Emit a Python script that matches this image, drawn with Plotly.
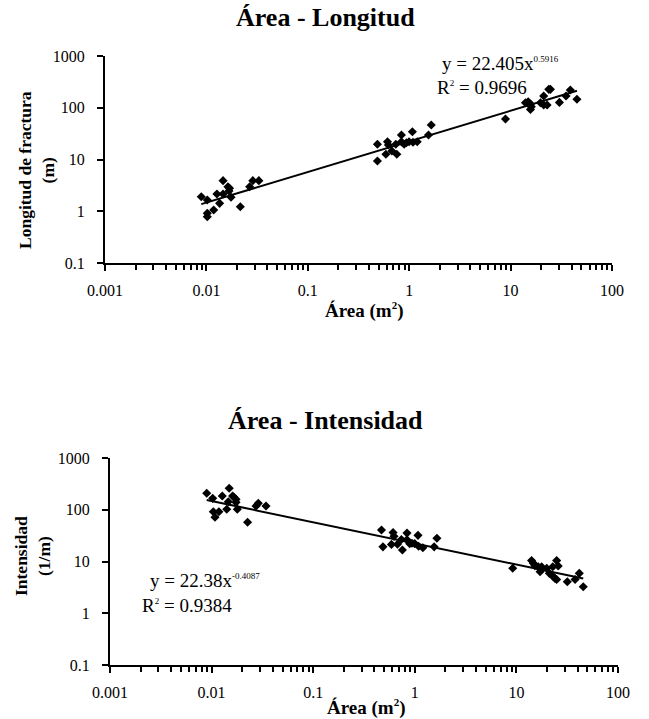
import plotly.graph_objects as go

# ---------------- data ----------------
area_long = [0.0089, 0.0102, 0.0146, 0.0127, 0.0146, 0.0163, 0.0169, 0.0167, 0.0175, 0.0135,
             0.0118, 0.0102, 0.0102, 0.0216, 0.0267, 0.0287, 0.0329,
             0.486, 0.486, 0.589, 0.611, 0.624, 0.675, 0.755, 0.738, 0.838, 0.838, 0.891, 0.938,
             0.997, 1.075, 1.09, 1.2, 1.55, 1.65,
             8.9, 14.0, 14.9, 15.7, 16.0, 15.7, 19.7, 21.2, 21.2, 22.9, 23.8, 24.7, 30.3, 35.2, 38.8, 45.1]
longitud = [1.91, 1.65, 3.9, 2.15, 2.15, 2.98, 2.78, 2.46, 1.86, 1.42,
            1.06, 0.91, 0.785, 1.22, 2.98, 3.9, 3.9,
            19.7, 9.35, 12.6, 22.1, 19.1, 14.6, 12.6, 19.7, 29.7, 22.1, 19.7, 21.1,
            22.1, 34.4, 21.5, 22.1, 29.7, 46.4,
            60.6, 125, 131, 118, 105, 93, 125, 169, 113, 113, 227, 227, 127, 169, 220, 146]

area_int = [0.00895, 0.01025, 0.01274, 0.0149, 0.0161, 0.0166, 0.0174, 0.0146, 0.0174, 0.0104,
            0.0118, 0.0108, 0.0141, 0.0179, 0.0226, 0.0274, 0.0288, 0.0343,
            0.47, 0.486, 0.589, 0.611, 0.624, 0.675, 0.755, 0.738, 0.838, 0.838, 0.891, 0.938,
            0.997, 1.075, 1.09, 1.2, 1.55, 1.65,
            9.2, 14.1, 14.7, 15.2, 16.4, 17.1, 17.7, 19.9, 21.1, 22.8, 23.1, 24.0, 24.9, 24.9,
            25.8, 31.7, 37.8, 41.6, 45.5]
intensidad = [208, 166, 184, 260, 184, 174, 159, 143, 139, 91.6,
              91.6, 71.5, 102, 102, 57.2, 118, 133, 118,
              40.5, 19.2, 21.4, 36.2, 30.6, 21.6, 16.7, 26.7, 35.4, 26.4, 22.1, 22.5,
              22.2, 32.0, 19.7, 18.4, 19.2, 28.1,
              7.4, 10.4, 9.2, 8.3, 7.9, 6.35, 7.9, 7.4, 5.9, 7.9, 5.1, 4.7, 4.5, 10.4,
              8.2, 4.07, 4.5, 5.9, 3.26]

x_tick_vals = [0.001, 0.01, 0.1, 1, 10, 100]
x_tick_text = ["0.001", "0.01", "0.1", "1", "10", "100"]
y_tick_vals = [0.1, 1, 10, 100, 1000]
y_tick_text = ["0.1", "1", "10", "100", "1000"]

fit_long = (22.405, 0.5916)
fit_int = (22.38, -0.4087)

FONT = "Liberation Serif"
W, H = 649, 719


def fx(px):
    return px / W


def fy(py):
    return 1 - py / H


def fit_line(xs, coef):
    lo, hi = min(xs), max(xs)
    n = 40
    xv = [lo * (hi / lo) ** (i / (n - 1)) for i in range(n)]
    return xv, [coef[0] * v ** coef[1] for v in xv]


fig = go.Figure()
for xs, ys, coef, ax in [(area_long, longitud, fit_long, ""), (area_int, intensidad, fit_int, "2")]:
    fig.add_trace(go.Scatter(x=xs, y=ys, mode="markers", xaxis="x" + ax, yaxis="y" + ax,
                             marker=dict(symbol="diamond", size=7, color="black"),
                             showlegend=False))
    lx, ly = fit_line(xs, coef)
    fig.add_trace(go.Scatter(x=lx, y=ly, mode="lines", xaxis="x" + ax, yaxis="y" + ax,
                             line=dict(color="black", width=2), showlegend=False))


def xaxis(dom, anchor):
    return dict(type="log", domain=dom, anchor=anchor, range=[-3, 2], automargin=False,
                tickvals=x_tick_vals, ticktext=x_tick_text,
                ticks="outside", ticklen=6, tickwidth=1.5, tickcolor="black",
                minor=dict(ticks="outside", dtick="D1", ticklen=5, tickwidth=1.5,
                           tickcolor="black", showgrid=False),
                showline=True, linecolor="black", linewidth=2, showgrid=False,
                zeroline=False, ticklabelstandoff=6,
                tickfont=dict(family=FONT, size=16, color="black"))


def yaxis(dom, anchor):
    return dict(type="log", domain=dom, anchor=anchor, range=[-1, 3], automargin=False,
                tickvals=y_tick_vals, ticktext=y_tick_text,
                ticks="outside", ticklen=6, tickwidth=1.5, tickcolor="black",
                showline=True, linecolor="black", linewidth=2, showgrid=False,
                zeroline=False, ticklabelstandoff=9,
                tickfont=dict(family=FONT, size=16, color="black"))


fig.update_layout(
    width=W, height=H, margin=dict(l=0, r=0, t=0, b=0, autoexpand=False),
    paper_bgcolor="white", plot_bgcolor="white",
    font=dict(family=FONT, color="black"),
    xaxis=xaxis([fx(105), fx(612)], "y"),
    yaxis=yaxis([fy(263), fy(56)], "x"),
    xaxis2=xaxis([fx(110), fx(618)], "y2"),
    yaxis2=yaxis([fy(665), fy(458)], "x2"),
)


def ann(text, px, py, size, bold=False, angle=0, xanchor="center"):
    t = f"<b>{text}</b>" if bold else text
    fig.add_annotation(text=t, x=fx(px), y=fy(py), xref="paper", yref="paper",
                       showarrow=False, xanchor=xanchor, yanchor="middle",
                       textangle=angle, font=dict(family=FONT, size=size, color="black"))


def small(s, px=9):
    return f'<sup><span style="font-size:{px}px">{s}</span></sup>'


ann("Área - Longitud", 325, 18, 26, bold=True)
ann("Área - Intensidad", 325, 420, 26, bold=True)
ann("Área (m" + small("2", 11) + ")", 364, 310, 19, bold=True)
ann("Área (m" + small("2", 11) + ")", 366, 707, 19, bold=True)
ann("Longitud de fractura<br>(m)", 36, 170, 17.5, bold=True, angle=-90)
ann("Intensidad<br>(1/m)", 32, 556, 17.5, bold=True, angle=-90)
ann("y = 22.405x" + small("0.5916"), 440, 64, 19, xanchor="left")
ann("R" + small("2") + " = 0.9696", 435, 87, 19, xanchor="left")
ann("y = 22.38x" + small("-0.4087"), 148, 580, 19, xanchor="left")
ann("R" + small("2") + " = 0.9384", 140, 605, 19, xanchor="left")

fig.write_html("out.html", config={"displayModeBar": False},
               post_script="document.body.style.margin='0';document.body.style.overflow='hidden';")
